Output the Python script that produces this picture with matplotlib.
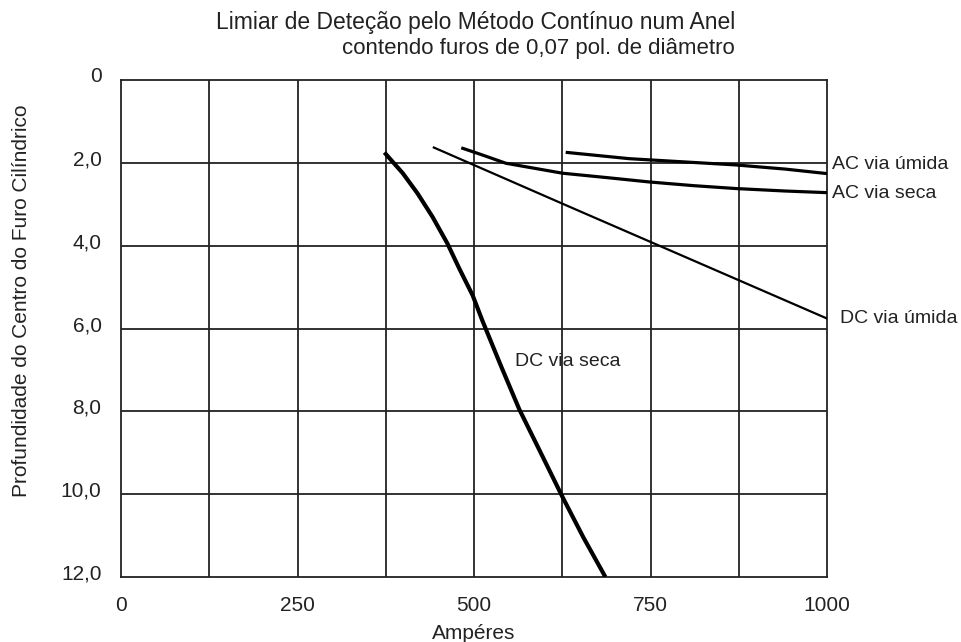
import numpy as np
import matplotlib
matplotlib.use("Agg")
import matplotlib.pyplot as plt
import matplotlib.transforms as mtransforms

plt.rcParams['font.family'] = ['Liberation Sans', 'DejaVu Sans']

# Curves (x = Ampéres, y = depth)
dc_seca_x = [373, 399, 420, 441, 462, 479, 498, 512, 538, 564, 595, 625, 655, 686]
dc_seca_y = [1.75, 2.25, 2.74, 3.30, 3.94, 4.55, 5.20, 5.82, 6.90, 7.95, 9.02, 10.06, 11.05, 12.0]

dc_umida_x = [443, 627, 1000]
dc_umida_y = [1.63, 3.00, 5.76]

ac_seca_x = [484, 510, 545, 625, 690, 747, 810, 870, 940, 1000]
ac_seca_y = [1.65, 1.80, 2.01, 2.25, 2.36, 2.46, 2.55, 2.62, 2.68, 2.72]

ac_umida_x = [632, 720, 800, 870, 940, 1000]
ac_umida_y = [1.75, 1.90, 1.98, 2.05, 2.15, 2.26]

x_ticks = [0, 250, 500, 750, 1000]
y_ticks = [0, 2, 4, 6, 8, 10, 12]
y_tick_labels = ['0', '2,0', '4,0', '6,0', '8,0', '10,0', '12,0']

fig = plt.figure(figsize=(9.62, 6.42), dpi=100)
ax = fig.add_axes([0.1258, 0.1012, 0.734, 0.7742])

# grid drawn as plain lines
for gx in np.arange(125, 1000, 125):
    ax.axvline(gx, color='#222222', lw=1.3, zorder=1)
for gy in range(2, 12, 2):
    ax.axhline(gy, color='#222222', lw=1.3, zorder=1)

ax.plot(dc_seca_x, dc_seca_y, color='black', lw=3.0, zorder=3, solid_capstyle='butt')
ax.plot(dc_umida_x, dc_umida_y, color='black', lw=1.6, zorder=3)
ax.plot(ac_seca_x, ac_seca_y, color='black', lw=2.3, zorder=3)
ax.plot(ac_umida_x, ac_umida_y, color='black', lw=2.3, zorder=3)

ax.set_xlim(0, 1000)
ax.set_ylim(12, 0)
ax.set_xticks(x_ticks)
ax.set_yticks(y_ticks)
ax.set_yticklabels(y_tick_labels)
ax.tick_params(length=0, labelsize=15, colors='#222222', pad=14)
# y labels sit a little above their grid lines in the original
up = mtransforms.ScaledTranslation(0, 5 / 100, fig.dpi_scale_trans)
for lab in ax.get_yticklabels():
    lab.set_transform(lab.get_transform() + up)
for s in ax.spines.values():
    s.set_color('#222222')
    s.set_linewidth(1.3)

ax.set_xlabel('Ampéres', fontsize=15, color='#222222', labelpad=6)
ax.set_ylabel('Profundidade do Centro do Furo Cilíndrico', fontsize=15,
              color='#222222')
ax.yaxis.set_label_coords(-0.128, 0.555)

txt = dict(fontsize=14, color='#222222', va='center', clip_on=False)
ax.text(1007, 2.05, 'AC via úmida', **txt)
ax.text(1007, 2.75, 'AC via seca', **txt)
ax.text(1018, 5.75, 'DC via úmida', **txt)
ax.text(558, 6.8, 'DC via seca', **txt)

fig.text(0.225, 0.965, 'Limiar de Deteção pelo Método Contínuo num Anel',
         fontsize=16.5, color='#222222', va='center')
fig.text(0.355, 0.925, 'contendo furos de 0,07 pol. de diâmetro',
         fontsize=16, color='#222222', va='center')

fig.savefig('out.png', dpi=100)
